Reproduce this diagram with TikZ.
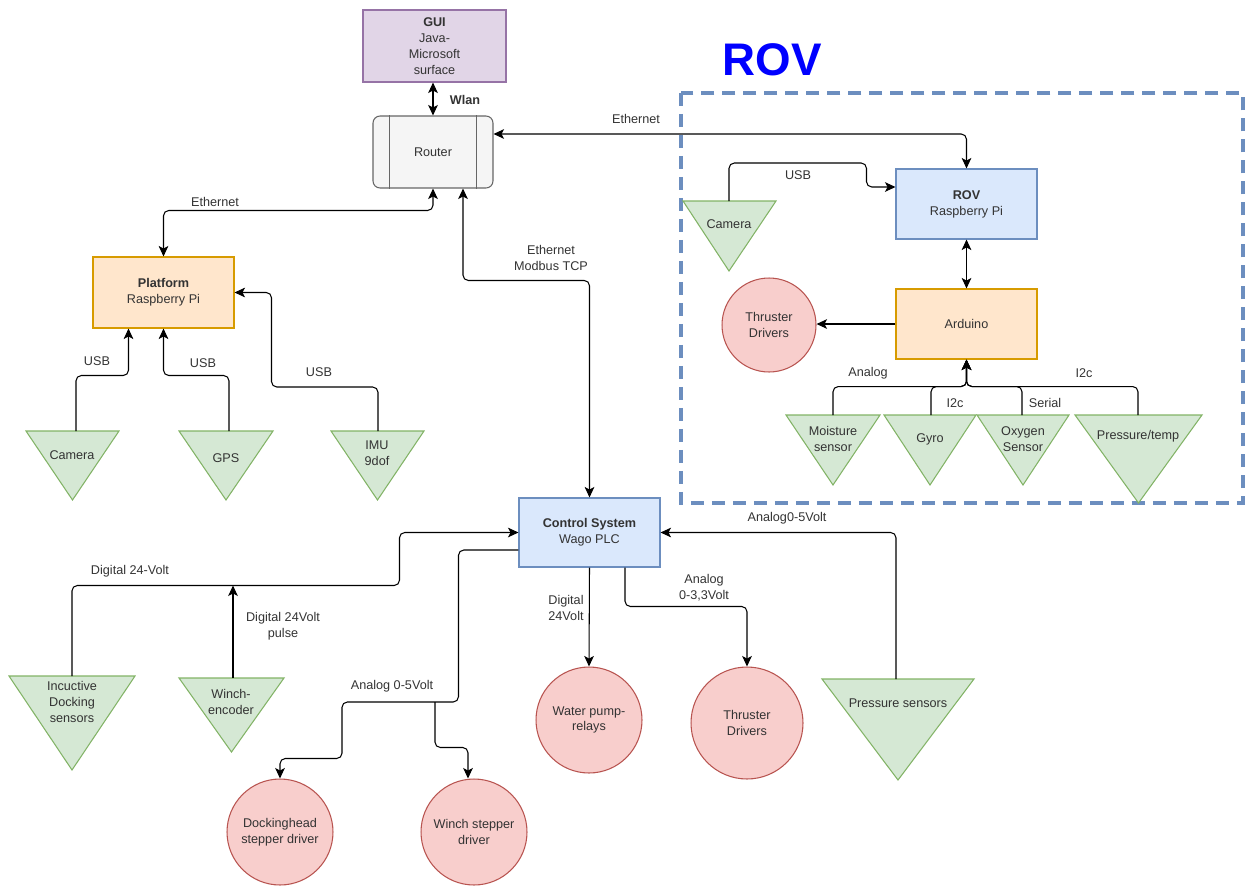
\documentclass[tikz,border=0pt]{standalone}
\usepackage{fontspec}
\setmainfont{Liberation Sans}
\usetikzlibrary{arrows.meta}
\usetikzlibrary{calc}
\usetikzlibrary{positioning}

\definecolor{guifill}{HTML}{E1D5E7}
\definecolor{guiline}{HTML}{9673A6}
\definecolor{rtfill}{HTML}{F5F5F5}
\definecolor{rtline}{HTML}{666666}
\definecolor{pifill}{HTML}{DAE8FC}
\definecolor{piline}{HTML}{6C8EBF}
\definecolor{ardfill}{HTML}{FFE6CC}
\definecolor{ardline}{HTML}{D79B00}
\definecolor{drvfill}{HTML}{F8CECC}
\definecolor{drvline}{HTML}{B85450}
\definecolor{senfill}{HTML}{D5E8D4}
\definecolor{senline}{HTML}{82B366}
\definecolor{txtgrey}{HTML}{333333}

\begin{document}
\begin{tikzpicture}[x=0.02cm,y=-0.02cm,
  every node/.style={font=\fontsize{7.2}{9}\selectfont,align=center,inner sep=1pt,text=txtgrey},
  box/.style={rectangle,draw,line width=0.6pt,minimum width=2.82cm,minimum height=1.4cm},
  drv/.style={circle,draw=drvline,fill=drvfill,line width=0.6pt},
  sens/.style={draw=senline,fill=senfill,line width=0.6pt},
  link/.style={-{Stealth[length=6pt,width=5.5pt,inset=1.5pt]},line width=0.6pt,rounded corners=3pt},
  dlink/.style={{Stealth[length=6pt,width=5.5pt,inset=1.5pt]}-{Stealth[length=6pt,width=5.5pt,inset=1.5pt]},line width=0.6pt,rounded corners=3pt}]
\useasboundingbox (0,0) rectangle (1247,886);

% ROV frame
\draw[piline,line width=2pt,dash pattern=on 0.26cm off 0.16cm] (681,93) rectangle (1243,503);
\node[font=\bfseries\fontsize{26}{30}\selectfont,text=blue] (rovtitle) at (772,60) {ROV};

% boxes
\node[box,draw=guiline,fill=guifill,minimum width=2.86cm,minimum height=1.44cm] (gui) at (434.5,46) {\textbf{GUI}\\Java-\\Microsoft\\surface};
\node[box,draw=rtline,fill=rtfill,rounded corners=4pt,minimum width=2.4cm,minimum height=1.44cm] (router) at (433,152) {Router};
\draw[rtline,line width=0.6pt] ($(router.north west)+(17,0)$) -- ($(router.south west)+(17,0)$);
\draw[rtline,line width=0.6pt] ($(router.north east)+(-17,0)$) -- ($(router.south east)+(-17,0)$);
\node[box,draw=ardline,fill=ardfill,minimum height=1.42cm] (plat) at (163.5,292.5) {\textbf{Platform}\\Raspberry Pi};
\node[box,draw=piline,fill=pifill] (rovpi) at (966.5,204) {\textbf{ROV}\\Raspberry Pi};
\node[box,draw=ardline,fill=ardfill] (arduino) at (966.5,324) {Arduino};
\node[box,draw=piline,fill=pifill,minimum height=1.38cm] (plc) at (589.5,532.5) {\textbf{Control System}\\Wago PLC};

% drivers
\node[drv,minimum size=1.88cm] (thrR) at (769,325) {Thruster\\Drivers};
\node[drv,minimum size=2.12cm] (pump) at (589,720) {Water pump-\\relays};
\node[drv,minimum size=2.24cm] (thrB) at (747,723) {Thruster\\Drivers};
\node[drv,minimum size=2.12cm] (dock) at (280,832) {Dockinghead\\stepper driver};
\node[drv,minimum size=2.12cm] (wstep) at (474,832) {Winch stepper\\driver};

% sensors
\draw[sens] (683,201) -- (776,201) -- (729,271) -- cycle;
\node (camRtxt) at (729,224) {Camera};
\coordinate (camR) at (729,201);
\draw[sens] (26,431) -- (119,431) -- (72.5,500) -- cycle;
\node (camPtxt) at (72,455) {Camera};
\coordinate (camP) at (76,431);
\draw[sens] (179,431) -- (273,431) -- (226,500) -- cycle;
\node (gpstxt) at (226,458) {GPS};
\coordinate (gps) at (229,431);
\draw[sens] (331,431) -- (424,431) -- (377.5,500) -- cycle;
\node (imutxt) at (377,453) {IMU\\9dof};
\coordinate (imu) at (378,431);
\draw[sens] (786,415) -- (880,415) -- (833,485) -- cycle;
\node (moisttxt) at (833,439) {Moisture\\sensor};
\coordinate (moist) at (833,415);
\draw[sens] (884,415) -- (976,415) -- (930,485) -- cycle;
\node (gyrotxt) at (930,439) {Gyro};
\coordinate (gyro) at (931,415);
\draw[sens] (977,415) -- (1069,415) -- (1023,485) -- cycle;
\node (oxytxt) at (1023,439) {Oxygen\\Sensor};
\coordinate (oxy) at (1022,415);
\draw[sens] (1075,415) -- (1202,415) -- (1138.5,503) -- cycle;
\node (ptemptxt) at (1138,436) {Pressure/temp};
\coordinate (ptemp) at (1138,415);
\draw[sens] (9,676) -- (135,676) -- (72,770) -- cycle;
\node (indocktxt) at (72,702) {Incuctive\\Docking\\sensors};
\coordinate (indock) at (72,676);
\draw[sens] (179,678) -- (284,678) -- (231.5,752) -- cycle;
\node (wenctxt) at (231,702) {Winch-\\encoder};
\coordinate (wenc) at (233,678);
\draw[sens] (822,679) -- (974,679) -- (898,780) -- cycle;
\node (psenstxt) at (898,703) {Pressure sensors};
\coordinate (psens) at (896,679);

% network
\draw[dlink] (router.north |- gui.south) -- (router.north);
\node[font=\bfseries\fontsize{7.2}{9}\selectfont] (wlan) at (465,100) {Wlan};
\draw[dlink] ($(router.east)+(0,-18)$) -| (rovpi.north);
\node (eth1) at (636,119) {Ethernet};
\draw[dlink] (router.south) |- ($(plat.north)+(0,-46)$) -- (plat.north);
\node (eth2) at (215,202) {Ethernet};
\draw[dlink] ($(router.south)+(30,0)$) |- ($(plc.north)+(0,-217)$) -- (plc.north);
\node (eth3) at (551,258) {Ethernet\\Modbus TCP};

% ROV links
\draw[link] (camR) |- ($(rovpi.west)+(-29,-41)$) |- ($(rovpi.west)+(0,-17)$);
\node (usbR) at (798,175) {USB};
\draw[dlink] (rovpi.south) -- (arduino.north);
\draw[link] (arduino.west) -- (thrR.east |- arduino.west);
\coordinate (ardbus) at ($(arduino.south)+(0,27)$);
\draw[link] (moist) |- (ardbus) -- (arduino.south);
\draw[link] (gyro) |- (ardbus) -- (arduino.south);
\draw[link] (oxy) |- (ardbus) -- (arduino.south);
\draw[link] (ptemp) |- (ardbus) -- (arduino.south);
\node (analogR) at (868,373) {Analog};
\node (i2cR) at (1084,373) {I2c};
\node (i2cM) at (955,403) {I2c};
\node (serial) at (1045,403) {Serial};

% platform links
\draw[link] (camP) |- ($(plat.south)+(-35,47)$) -- ($(plat.south)+(-35,0)$);
\node (usb1) at (97,361) {USB};
\draw[link] (gps) |- ($(plat.south)+(0,47)$) -- (plat.south);
\node (usb2) at (203,363) {USB};
\draw[link] (imu) |- ($(plat.east)+(37,94.5)$) |- (plat.east);
\node (usb3) at (319,372) {USB};

% control system links
\coordinate (dbus) at ($(plc.west)+(-119,53)$);
\draw[link] (indock) |- (dbus) |- (plc.west);
\node (dig1) at (130,571) {Digital 24-Volt};
\draw[link] (wenc) -- (wenc |- dbus);
\node (dig2) at (283,626) {Digital 24Volt\\pulse};
\coordinate (abus) at (435,702);
\draw[link] ($(plc.west)+(0,17.5)$) -| ($(plc.west)+(-60,169.5)$) -| ($(dock.north)+(62,-20)$) -| (dock.north);
\draw[link] (abus) |- ($(wstep.north)+(-6,-31)$) -- ($(wstep.north)+(-6,0)$);
\node (ana1) at (392,686) {Analog 0-5Volt};
\draw[link] (plc.south) -- (pump.north);
\node (dig3) at (566,608) {Digital\\24Volt};
\draw[link] ($(plc.south)+(35.5,0)$) |- ($(thrB.north)+(0,-60)$) -- (thrB.north);
\node (ana2) at (704,588) {Analog\\0-3,3Volt};
\draw[link] (psens) |- (plc.east);
\node (ana3) at (787,518) {Analog0-5Volt};

\end{tikzpicture}
\end{document}
